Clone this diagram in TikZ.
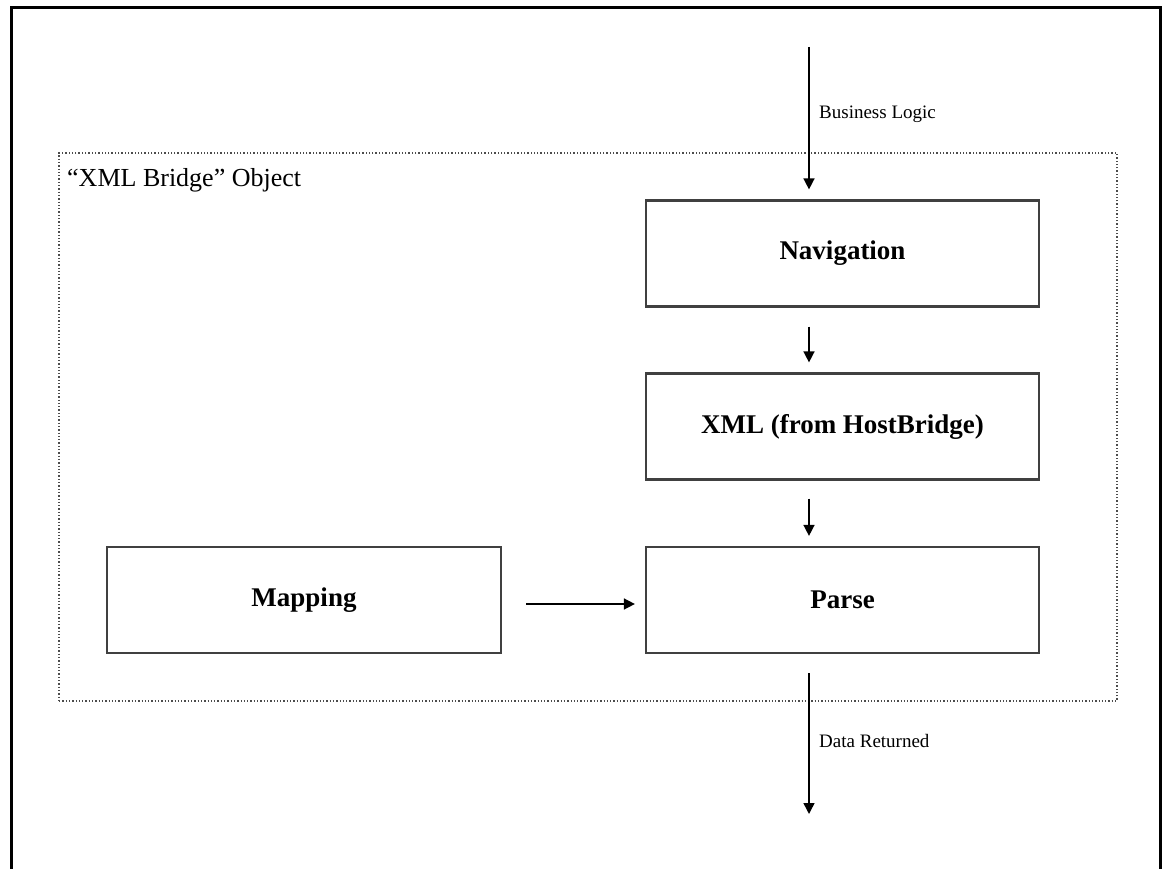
\documentclass[tikz,border=0pt]{standalone}
\usepackage{fontspec}
\setmainfont{Liberation Serif}
\usetikzlibrary{arrows.meta}
\begin{document}
\begin{tikzpicture}[x=1pt,y=-1pt,
  box/.style={draw=black!75, line width=2.2pt, minimum width=393pt, minimum height=106pt, inner sep=0pt, font=\fontsize{27}{30}\selectfont\bfseries},
  arr/.style={line width=1.5pt, -{Triangle[width=11pt,length=11pt]}},
  small/.style={font=\fontsize{19}{21}\selectfont, inner sep=0pt, anchor=base west}]
\useasboundingbox (0,0) rectangle (1168,869);
\draw[line width=3pt] (11,869) -- (11,8) -- (1160,8) -- (1160,869);
\node[draw=black!70, dotted, line width=1.3pt, minimum width=1058pt, minimum height=548pt, inner sep=0pt] (frame) at (588,427) {};
\node[font=\fontsize{26}{28}\selectfont, inner sep=0pt, anchor=base west] (title) at (67,187) {“XML Bridge” Object};
\node[box] (nav) at (842.5,253.5) {Navigation};
\node[box] (xml) at (842.5,426.5) {XML (from HostBridge)};
\node[box] (parse) at (842.5,600) {Parse};
\node[box, minimum width=394pt] (map) at (304,600) {Mapping};
\coordinate (bltop) at (809,47);
\coordinate (drend) at (809,814);
\draw[arr, shorten >=10pt] (bltop) -- (bltop |- nav.north);
\draw[arr, shorten <=19pt, shorten >=10pt] (bltop |- nav.south) -- (bltop |- xml.north);
\draw[arr, shorten <=18pt, shorten >=10pt] (bltop |- xml.south) -- (bltop |- parse.north);
\draw[arr, shorten <=24pt, shorten >=10pt] ([yshift=-4pt]map.east) -- ([yshift=-4pt]parse.west);
\draw[arr, shorten <=19pt] (bltop |- parse.south) -- (drend);
\node[small] (bl) at (819,119) {Business Logic};
\node[small] (dr) at (819,747) {Data Returned};
\end{tikzpicture}
\end{document}
